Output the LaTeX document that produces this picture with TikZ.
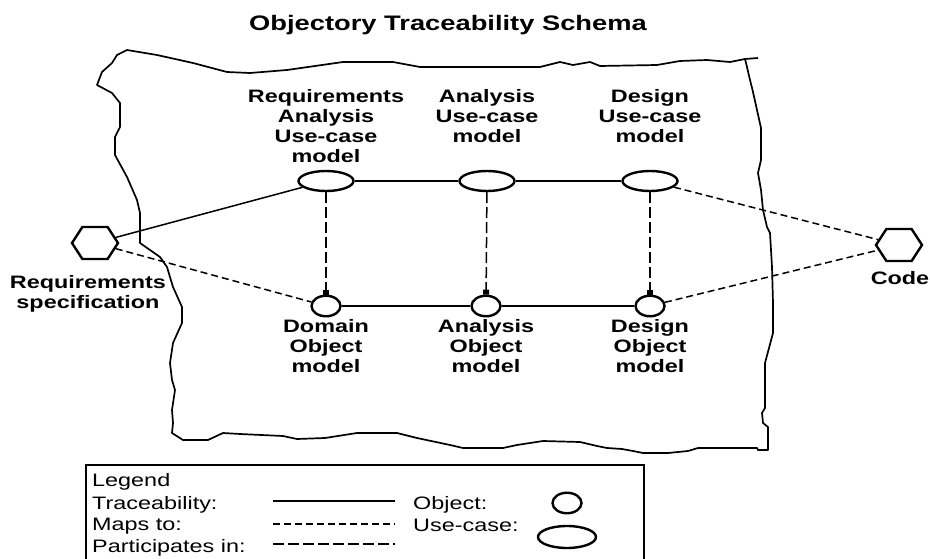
\documentclass[tikz,border=0pt]{standalone}
\usepackage{fontspec}
\setmainfont{Liberation Sans}[FakeStretch=1.3]
\usetikzlibrary{arrows.meta,shapes.geometric,shapes.symbols}
\begin{document}
\begin{tikzpicture}[x=1pt,y=-1pt,
  usecase/.style={ellipse,draw,line width=2.4pt,minimum width=55pt,minimum height=20pt,inner sep=0pt},
  objnode/.style={ellipse,draw,line width=2.4pt,minimum width=29pt,minimum height=20.5pt,inner sep=0pt},
  hexa/.style={signal,signal to=east and west,signal pointer angle=114,draw,line width=2.4pt,minimum width=46pt,minimum height=32pt,inner sep=0pt},
  lbl/.style={font=\bfseries\fontsize{18}{20}\selectfont,align=center,inner sep=0pt,anchor=north},
  leg/.style={font=\fontsize{18}{21}\selectfont,inner sep=0pt,anchor=base west},
  trace/.style={line width=1.5pt},
  mapsto/.style={line width=1.5pt,dash pattern=on 7pt off 4pt},
  partin/.style={line width=1.5pt,dash pattern=on 11pt off 4pt},
  edge/.style={line width=1.7pt,line join=round},
]
\useasboundingbox (0,0) rectangle (930,559);

% title
\node[font=\bfseries\fontsize{21}{24}\selectfont,inner sep=0pt,anchor=north] (title) at (448,15) {Objectory Traceability Schema};

% torn-paper boundary
\draw[edge] (97,85) -- (102,72) -- (112,63) -- (117,55) -- (127,50) -- (157,55) -- (193,63)
  -- (227,72) -- (250,73) -- (287,70) -- (343,62) -- (393,62) -- (420,67) -- (500,67)
  -- (540,67) -- (560,62) -- (573,65) -- (590,62) -- (600,66) -- (657,65) -- (680,61)
  -- (707,60) -- (730,62) -- (745,59)
  -- (747,67) -- (750,80) -- (753,92) -- (757,110) -- (761,128) -- (761,160) -- (758,173)
  -- (761,190) -- (763,210) -- (767,227) -- (770,233) -- (772,267) -- (773,303) -- (773,333)
  -- (765,363) -- (765,400) -- (765,408) -- (762,413) -- (763,423) -- (768,427) -- (768,450)
  -- (758,450) -- (757,448) -- (698,448) -- (688,451) -- (668,453) -- (643,453) -- (633,451)
  -- (622,449) -- (607,448) -- (597,446) -- (580,442) -- (543,441) -- (517,445) -- (503,448)
  -- (463,448) -- (450,445) -- (417,438) -- (397,433) -- (357,433) -- (325,438) -- (297,439)
  -- (283,436) -- (240,434) -- (223,433) -- (208,440) -- (183,440) -- (172,433) -- (173,423)
  -- (172,410) -- (175,390) -- (172,380) -- (170,363) -- (173,343) -- (182,323) -- (182,307)
  -- (173,287) -- (167,267) -- (160,257) -- (140,243) -- (140,213) -- (137,200) -- (127,177)
  -- (115,155) -- (115,137) -- (120,127) -- (120,103) -- (112,93) -- cycle;
\draw[edge] (745,59) -- (758,58);

% use-case nodes
\node[usecase] (uc1) at (326,181) {};
\node[usecase] (uc2) at (487,181) {};
\node[usecase] (uc3) at (650,181) {};
% object nodes
\node[objnode] (oc1) at (326,306) {};
\node[objnode] (oc2) at (486,306) {};
\node[objnode] (oc3) at (650,306) {};
% hexagons
\node[hexa] (req) at (95,243) {};
\node[hexa] (code) at (899,245) {};

% labels
\node[lbl] (l1) at (326,89) {Requirements\\Analysis\\Use-case\\model};
\node[lbl] (l2) at (487,89) {Analysis\\Use-case\\model};
\node[lbl] (l3) at (650,89) {Design\\Use-case\\model};
\node[lbl] (l4) at (326,319) {Domain\\Object\\model};
\node[lbl] (l5) at (486,319) {Analysis\\Object\\model};
\node[lbl] (l6) at (650,319) {Design\\Object\\model};
\node[lbl] (l7) at (88,275) {Requirements\\specification};
\node[lbl] (l8) at (900,271) {Code};

% traceability
\draw[trace] (uc1) -- (uc2);
\draw[trace] (uc2) -- (uc3);
\draw[trace] (oc1) -- (oc2);
\draw[trace] (oc2) -- (oc3);
\draw[trace] (req) -- (uc1);
% maps to
\draw[mapsto] (req) -- (oc1);
\draw[mapsto] (uc3) -- (code);
\draw[mapsto] (oc3) -- (code);
% participates / refines
\draw[partin,-{Square[length=5pt,width=6pt]}] (uc1) -- (oc1);
\draw[partin,-{Square[length=5pt,width=6pt]}] (uc2) -- (oc2);
\draw[partin,-{Square[length=5pt,width=6pt]}] (uc3) -- (oc3);

% legend
\draw[line width=1.5pt] (86,565) -- (86,465) -- (644,465) -- (644,565);
\node[leg] (lg0) at (92,486) {Legend};
\node[leg] (lg1) at (92,509) {Traceability:};
\node[leg] (lg2) at (92,530) {Maps to:};
\node[leg] (lg3) at (92,552) {Participates in:};
\node[leg] (lg4) at (413,509) {Object:};
\node[leg] (lg5) at (413,531) {Use-case:};
\coordinate (a1) at (273,501); \coordinate (b1) at (395,501);
\coordinate (a2) at (273,524); \coordinate (b2) at (395,524);
\coordinate (a3) at (273,544); \coordinate (b3) at (395,544);
\draw[trace] (a1) -- (b1);
\draw[mapsto] (a2) -- (b2);
\draw[partin] (a3) -- (b3);
\node[objnode] (lgo) at (567,503) {};
\node[usecase,minimum width=58pt,minimum height=22pt] (lgu) at (567,537) {};
\end{tikzpicture}
\end{document}
